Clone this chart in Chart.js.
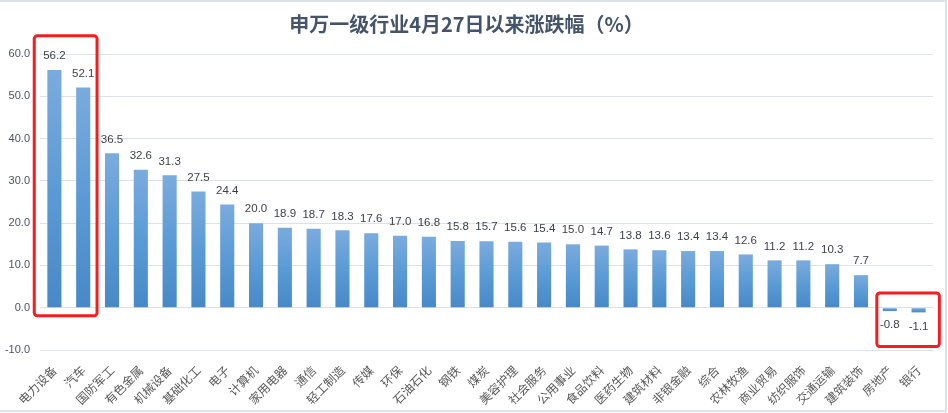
<!DOCTYPE html>
<html>
<head>
<meta charset="utf-8">
<script src="https://cdn.jsdelivr.net/npm/chart.js@4/dist/chart.umd.min.js"></script>
<style>
  html, body { margin: 0; padding: 0; background: #fff; }
  #wrap { width: 948px; height: 413px; position: relative; }
</style>
</head>
<body>
<div id="wrap"><canvas id="chart"></canvas></div>
<script>
// --- data ---
const industries = ['电力设备', '汽车', '国防军工', '有色金属', '机械设备', '基础化工', '电子', '计算机',
    '家用电器', '通信', '轻工制造', '传媒', '环保', '石油石化', '钢铁', '煤炭', '美容护理', '社会服务',
    '公用事业', '食品饮料', '医药生物', '建筑材料', '非银金融', '综合', '农林牧渔', '商业贸易',
    '纺织服饰', '交通运输', '建筑装饰', '房地产', '银行'];
const changePct = [56.2, 52.1, 36.5, 32.6, 31.3, 27.5, 24.4, 20.0, 18.9, 18.7, 18.3, 17.6, 17.0, 16.8,
    15.8, 15.7, 15.6, 15.4, 15.0, 14.7, 13.8, 13.6, 13.4, 13.4, 12.6, 11.2, 11.2, 10.3, 7.7, -0.8, -1.1];
const yTicks = [-10, 0, 10, 20, 30, 40, 50, 60];

// --- per-bar gradient, light at the top, darker at the base ---
function barColor(context) {
    const chart = context.chart;
    const { ctx, chartArea, scales } = chart;
    if (!chartArea || !scales.y) return '#5b9bd5';
    const v = context.raw;
    const yTop = scales.y.getPixelForValue(Math.max(v, 0));
    const yBot = scales.y.getPixelForValue(Math.min(v, 0));
    if (yBot - yTop < 1) return '#5b9bd5';
    const g = ctx.createLinearGradient(0, yTop, 0, yBot);
    g.addColorStop(0, '#7babdd');
    g.addColorStop(0.5, '#5b9bd5');
    g.addColorStop(1, '#4788c7');
    return g;
}

// frame round the picture
const framePlugin = {
    id: 'frame',
    beforeDraw(chart) {
        const c = chart.ctx;
        c.save();
        c.fillStyle = '#ffffff';
        c.fillRect(0, 0, chart.width, chart.height);
        c.strokeStyle = '#dde1e8';
        c.lineWidth = 2;
        c.beginPath();
        c.moveTo(0, 1);
        c.lineTo(946, 1);
        c.lineTo(946, 411);
        c.lineTo(0, 411);
        c.stroke();
        c.restore();
    }
};

// value labels above / below the bars
const valueLabels = {
    id: 'valueLabels',
    afterDatasetsDraw(chart) {
        const c = chart.ctx;
        const meta = chart.getDatasetMeta(0);
        c.save();
        c.font = '11.5px "Liberation Sans", Arial, sans-serif';
        c.fillStyle = '#3b3f48';
        c.textAlign = 'center';
        c.textBaseline = 'middle';
        meta.data.forEach((bar, i) => {
            const v = changePct[i];
            const y = v >= 0 ? bar.y - 14 : bar.y + 14;
            c.fillText(v.toFixed(1), bar.x, y);
        });
        c.restore();
    }
};

// red highlight boxes round the first two and the last two bars
const highlightBoxes = {
    id: 'highlightBoxes',
    afterDraw(chart) {
        const { ctx: c, scales } = chart;
        const x = scales.x, y = scales.y;
        const half = x.getPixelForValue(1) - x.getPixelForValue(0);
        const boxes = [
            { from: 0, to: 1, top: 64.3, bottom: -1.9, padL: 0.70, padR: 0.48 },
            { from: 29, to: 30, top: 3.5, bottom: -9.2, padL: 0.45, padR: 0.72 }
        ];
        c.save();
        c.strokeStyle = '#f51d1d';
        c.lineWidth = 3;
        boxes.forEach(b => {
            const l = x.getPixelForValue(b.from) - half * b.padL;
            const r = x.getPixelForValue(b.to) + half * b.padR;
            const t = y.getPixelForValue(b.top);
            const btm = y.getPixelForValue(b.bottom);
            c.beginPath();
            c.roundRect(l, t, r - l, btm - t, 3);
            c.stroke();
        });
        c.restore();
    }
};

const ctx = document.getElementById('chart').getContext('2d');
new Chart(ctx, {
    type: 'bar',
    data: {
        labels: industries,
        datasets: [{
            label: '涨跌幅',
            data: changePct,
            backgroundColor: barColor,
            categoryPercentage: 1,
            barPercentage: 0.49
        }]
    },
    options: {
        responsive: true,
        maintainAspectRatio: false,
        animation: false,
        layout: { padding: { left: 0, right: 15, top: 0, bottom: 0 } },
        plugins: {
            legend: { display: false },
            tooltip: { enabled: false },
            title: {
                display: true,
                text: '申万一级行业4月27日以来涨跌幅（%）',
                color: '#44546a',
                font: { family: '"Noto Sans CJK SC", sans-serif', size: 20, weight: 'bold', lineHeight: 1.2 },
                padding: { top: 12, bottom: 18 }
            }
        },
        scales: {
            x: {
                grid: { display: false },
                border: { display: false },
                ticks: {
                    minRotation: 45,
                    maxRotation: 45,
                    autoSkip: false,
                    padding: 5,
                    color: '#595959',
                    font: { family: '"Noto Sans CJK SC", sans-serif', size: 12 }
                },
                afterFit(scale) { scale.height = 63; }
            },
            y: {
                min: -10,
                max: 60,
                afterBuildTicks(scale) { scale.ticks = yTicks.map(v => ({ value: v })); },
                grid: { color: '#dde2ea', lineWidth: 1, drawTicks: false },
                border: { display: false },
                ticks: {
                    padding: 10,
                    color: '#4a5260',
                    font: { family: '"Liberation Sans", Arial, sans-serif', size: 11 },
                    callback: v => Number(v).toFixed(1)
                },
                afterFit(scale) { scale.width = 40; }
            }
        }
    },
    plugins: [framePlugin, valueLabels, highlightBoxes]
});
</script>
</body>
</html>
